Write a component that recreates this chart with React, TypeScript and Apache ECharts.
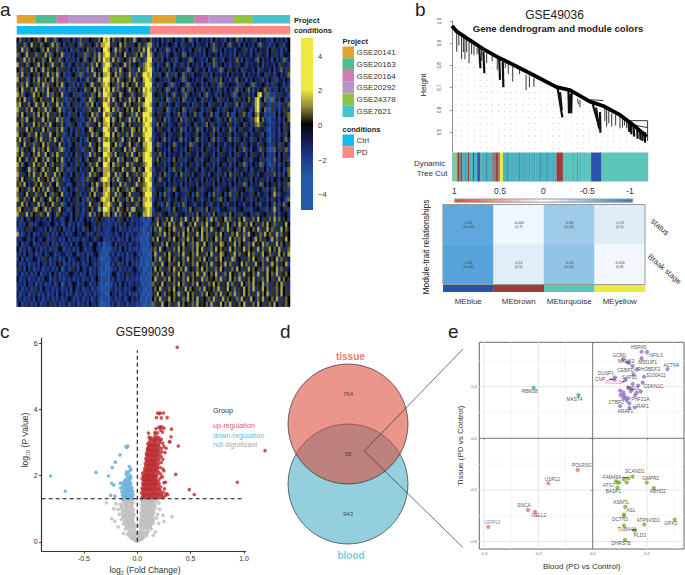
import React, { useEffect, useRef } from "react";
import * as echarts from "echarts";

const FONT = "Liberation Sans";
// ---------- panel a
const projects = ["GSE20141", "GSE20163", "GSE20164", "GSE20292", "GSE24378", "GSE7621"];
const projectColors = ["#E0A32E", "#52BC8A", "#CB7DB5", "#B795C8", "#92C13E", "#48C2CB"];
const ctrlCounts = [8, 9, 5, 18, 9, 9];
const pdCounts = [10, 8, 6, 11, 8, 16];
const conditions = ["Ctrl", "PD"];
const conditionColors = ["#14BBEF", "#F88A87"];
const heatLevels = [-2.6, -1.3, -0.8, -0.4, 0.15, 0.95, 1.35, 1.75, 2.3, 4];
const heatTicks = [4, 2, 0, -2, -4];
const heatRows = [
"5736425647 3586437254 3625143736 2546375989 4736257463 82546357|3425142635 2431537241 5342415243 3152447315 2436153442 315243425",
"3647258364 7254683725 1436352714 6253748899 3625847362 45736188|2415342543 1526344152 3441527344 2517344152 5342517343 142536145",
"6482735645 2758364726 4251362435 7361425998 5283746152 63748297|4152437142 5341442536 1425437142 5243414536 2414253441 526341425",
"7253846372 6483725648 2314253627 1647382899 6374258463 27581698|1536241453 2447153424 2415344251 4342415243 4415326441 536241454",
"4628374756 3725846372 5136241537 3527486988 3847265372 86142799|3264153426 1453427154 3241547243 1542437415 2344175243 4152437142",
"8364725368 4756283647 2413526314 6273851899 7462538374 35627898|2513447251 3426415342 4153247143 5241436254 1434425143 442516342",
"5273648475 2847365726 3625141623 7482536998 4273865472 63847899|1425364142 5344271536 4425143427 1536442516 3442516344 251437426",
"7384625637 5268473825 1324562714 2638475889 6583724683 27469989|3261547326 1547243154 4326415342 4415243441 5243414526 341452437",
"8463725748 3675284736 4213625143 7364281999 3748265374 86258998|1453426145 3427145342 4154326147 5341427534 1425346142 536144253",
"6274835267 4827365748 2536141426 5183647898 5627384756 38427999|2416354271 4354172435 4142536417 2435441263 5417243541 426354142",
"7583647386 2748536472 1413625347 2658374989 4827365283 65749898|1642537144 2537416253 4164253416 4253417425 3741425376 142253416",
"8372546847 5638274658 3245162134 6371582998 7364825467 24638899|2543641527 3441725344 1527344142 5344172536 4142589417 121363441",
"6758324765 7362485736 2136425316 4872536879 3825746382 75864999|1364257136 4257143425 4136425416 3425413642 5743892571 071425413",
"7846375286 3857264837 4215263142 7385146998 6472538475 36728998|2451364245 1344425136 4245136442 5136427513 6442891642 162213647",
"8263748357 6283745682 1362514326 2746385899 4827365748 64857899|1426357142 4357142635 4142635414 2635414263 5414892571 062414263",
"7485263748 5748362475 2413625134 6582734978 7364825637 28369998|2536441253 4741253474 1253474125 3474125367 4125784412 121515367",
"6372845736 2857364827 3125463214 3748265899 3825746283 74859899|1642573144 2573164254 3164254316 4257316425 4316895731 032414257",
"8574263857 6372845637 4216352143 7263584889 5746382574 36268998|2375164234 5164234516 4237516423 4516423451 6423781642 122425164",
"7263857462 4857263748 2351426315 4875362998 6382574638 75749899|1526443152 4473152447 3152447315 2447315264 4315264431 032415264",
"8465372685 7263845762 1342516324 6382745899 4857263748 26368999|2344615234 4615234461 5234461523 4461523446 1523446152 122414615",
"6847265374 8263748257 3214635142 7564382878 3746285374 65847998|1435274143 5274143527 4143527416 3527416352 4416352441 032425274",
"7258463726 5847362584 2413526143 3826574999 6582734685 37258899|2471435247 1435247163 5244163524 4143524416 3524416352 126416352",
"8374652847 3758246378 1325463216 6473582889 4726358472 86347899|1563424156 3424156342 4156342415 6342415637 2415437241 017426372",
"7486325748 6285374826 3142516342 2837465998 7385264738 25768998|2637415243 4415263441 5263441526 3441526344 1526344152 121515263",
"6853742685 4738265748 2415326153 7546382879 3648275364 78358999|1475263147 5263144526 3144526314 4526314452 6314452631 137425631",
"8374526847 6385274637 1352416325 3762845998 5827364827 36467899|2563414256 3414256341 4256341425 6341425637 1425347142 021414256",
"7645382765 2847365827 4213625143 6485273888 3746582637 85734998|1344625137 4625134462 5134462513 4462513446 2513446251 316425137",
"8263574836 7582638475 2341526314 2837645889 6482735846 27368899|2641573244 1573264154 3264154326 4157326415 4326415432 637414157",
"7485362748 3657482736 1325463216 7364528998 4738265374 64857998|1527344152 4364152436 4152436415 2436415243 6415243641 425425364",
"6738524675 8263745826 4213542613 3574826878 5264837264 38267899|2463415246 3415246341 5246341524 6341524637 1524347152 536414637",
"8564273857 4738265473 1352416324 6283745889 3748562738 75468898|1344526137 4526134452 6134452613 4452613445 2613445261 427425261",
"7325846372 6485273658 3142536142 4758362898 6382745683 26357999|2651473245 1443265147 3245147326 5147326514 4326514432 538614432",
"8647325864 7253864725 2415362513 7263548988 4857263748 63748898|1442563144 2563144256 3144256317 4256314425 6314256341 426425317",
"6384752648 3746582637 1352462314 3846275889 7264835264 37258999|2563147256 3147254314 4256314425 6314425341 4425631442 537414725",
"7856324786 5283746285 4213562413 6574382998 3748265738 84637898|1445362147 5342147536 2147536214 4536214453 6214453621 428625362",
"8263847562 7648253764 2341526314 2837465878 5283746582 36548898|2361445236 1445236147 5236147523 6147523614 4523614452 637414452",
"2615324532 4324152431 3541524135 2413653321 3241635241 32310201|5274637582 6473825748 3657284736 5827364758 2637485263 748374652",
"4132561324 5432453241 2513241325 4532463231 2413641532 42321012|6385274837 4682537486 2748365274 6385274863 7485263748 537263485",
"1324632543 2415132465 1324152413 6541324221 3524132413 21310120|4738265748 2637485736 5827486352 7483652748 3657482638 472638574",
"8213425132 4362413252 4132453254 1324632312 2413524132 43120101|5627384756 3748572638 4857263748 5263748637 2845637285 763827465",
"3245324153 2541326413 2514132413 2541345121 3241324152 31201012|7485263748 5627384756 2847365827 4638572748 3652847365 284736485",
"2513245132 4362513241 3241524532 4135413011 2514632413 42310102|5263748526 3748562738 6485273648 7526384756 2738465827 363847526",
"5132413524 1324132654 1324132541 3245321010 1324152413 21310010|6748352637 4857263748 5836274857 4638572648 3756284736 857482637",
"3241532413 2513541324 4132541324 1324520101 3241324132 53120100|4826375846 2748365728 4637582648 7536284736 5847263854 726385748",
"2514132541 3264132413 2513245324 1532410010 2413524132 42301010|5738264857 3647285736 7485263748 5263874526 3748562738 465827364",
"4132413241 5324132564 1324132413 2541320100 3241624152 31201001|7263845726 4857364728 5637482657 3847263584 7263845736 284736582",
"6241524132 4132413250 2413641532 4132410100 1324132413 53120010|4857263758 6374825637 4857362748 5263748526 3847562738 465827364",
"2413241325 1324152413 3245324132 5132410010 2541324632 42310100|6374852637 4857263748 6382574836 2748563728 4657382648 573826475",
"5132413241 3254132413 1324132413 2413520110 3241324132 31201010|5826374857 3647285746 3827465738 2648573826 4758362748 526384756",
"3241532413 2413241350 2413541325 4132410100 1324152413 42310100|7364852637 4857264738 5263748573 6482736485 2738465827 364758263",
"2413241364 1532413241 3241532413 2413210010 2413241324 53120010|4758263748 5263847562 7384657382 6485273648 5738264857 362748563",
"4132413241 3241324152 4132413241 3241320100 5324132413 21310100|6385274657 3826485736 2748563748 2657382648 5736284758 263748526",
"3241324152 4132413241 3254132413 2413410110 2413241352 42301010|5748263857 4637285748 3652748263 8475637284 6385274836 574826375",
"2513241324 1324632413 2413241324 1532410010 3241324132 31210010|7263845736 2847563728 4657382648 5728364758 2637485263 748526375",
];
// ---------- panel b
const trunkX = [0, 0.024, 0.075, 0.16, 0.245, 0.33, 0.415, 0.534, 0.602, 0.704, 0.772, 0.857, 0.925, 0.993];
const trunkH = [0.978, 0.953, 0.923, 0.873, 0.832, 0.795, 0.757, 0.702, 0.689, 0.637, 0.617, 0.577, 0.532, 0.479];
const thickBranches = [
[0.139,0.877,0.145,0.787],[0.16,0.862,0.165,0.765],[0.241,0.832,0.245,0.735],[0.259,0.817,0.262,0.702],
[0.539,0.697,0.563,0.566],[0.551,0.68,0.56,0.6],[0.594,0.689,0.597,0.584],[0.611,0.689,0.608,0.584],[0.603,0.67,0.603,0.6],[0.755,0.59,0.757,0.497],
[0.718,0.625,0.755,0.51],[0.735,0.61,0.75,0.52],[0.925,0.532,0.93,0.479],[0.959,0.51,0.962,0.464],[0.985,0.5,0.985,0.452],[0.945,0.52,0.947,0.47],[0.972,0.505,0.972,0.46],
[0.9,0.55,0.905,0.5],[0.912,0.54,0.915,0.49],
];
const thinBranches = [
[0.024,0.95,0.024,0.862],[0.035,0.94,0.035,0.89],[0.049,0.93,0.049,0.828],[0.058,0.925,0.058,0.86],[0.066,0.92,0.066,0.828],[0.075,0.915,0.075,0.86],[0.087,0.905,0.087,0.81],[0.1,0.9,0.1,0.85],[0.112,0.89,0.112,0.847],[0.128,0.88,0.128,0.85],
[0.15,0.87,0.15,0.82],[0.177,0.855,0.177,0.81],[0.205,0.845,0.205,0.82],[0.231,0.832,0.231,0.78],[0.272,0.815,0.272,0.79],[0.287,0.815,0.287,0.762],[0.31,0.795,0.31,0.727],[0.345,0.78,0.345,0.76],[0.378,0.757,0.378,0.689],
[0.395,0.753,0.395,0.702],[0.418,0.742,0.418,0.705],[0.653,0.644,0.653,0.611],[0.64,0.65,0.645,0.625],[0.789,0.599,0.789,0.524],[0.8,0.595,0.8,0.54],[0.815,0.584,0.815,0.524],[0.835,0.58,0.835,0.53],
[0.857,0.577,0.857,0.517],[0.891,0.562,0.891,0.517],[0.87,0.56,0.87,0.52],[0.88,0.56,0.88,0.53],[0.78,0.61,0.78,0.55],
[0.534,0.702,0.602,0.692],[0.704,0.645,0.772,0.642],[0.905,0.551,0.998,0.551],[0.998,0.551,0.998,0.46],[0.925,0.532,0.998,0.52],
];
const dotX = [0.02,0.051,0.082,0.113,0.144,0.175,0.206,0.237,0.268,0.299,0.33,0.361,0.392,0.423,0.454,0.485,0.516,0.547,0.578,0.609,0.64,0.671,0.702,0.733,0.764,0.795,0.826,0.857,0.888,0.919,0.95,0.981];
const dotTop = [0.85,0.85,0.85,0.85,0.85,0.85,0.85,0.83,0.815,0.8,0.79,0.77,0.755,0.74,0.725,0.715,0.7,0.67,0.67,0.66,0.645,0.63,0.62,0.61,0.6,0.59,0.57,0.55,0.53,0.51,0.49,0.46];
const dotH = [0.426,0.454,0.482,0.51,0.538,0.566,0.594,0.622,0.65,0.678,0.706,0.734,0.762,0.79,0.818,0.846];
const stripPalette = ["#7FC9A3","#A23A3C","#4DB3BE","#5EC6B9","#2A52A6","#EEE93F","#8C8088","#3F8FB8"];
const stripSegs = [[16,0],[5,1],[6,6],[4,1],[8,2],[3,6],[6,2],[3,1],[7,2],[5,2],[3,1],[10,2],[5,4],[4,1],[4,2],[12,2],[6,7],[12,2],[12,6],[8,1],[5,6],[9,5],[12,2],[3,7],[14,2],[3,7],[16,2],[3,7],[10,2],[4,7],[14,2],[3,7],[12,2],[3,7],[14,2],[3,7],[18,2],[3,7],[16,2],[3,7],[7,2],[19,1],[30,3],[3,2],[10,3],[3,7],[5,3],[3,2],[10,3],[4,2],[17,3],[31,4],[140,3]];
const modules = ["MEblue", "MEbrown", "MEturquoise", "MEyellow"];
const moduleColors = ["#2A52A6", "#A23A3C", "#5EC6B9", "#EEE93F"];
const traits = ["status", "Braak stage"];
const traitCorr = [[-0.63, -0.064, -0.38, -0.13], [-0.66, -0.12, -0.43, -0.056]];
const traitP = [["4e-04", "0.7", "0.05", "0.5"], ["1e-04", "0.5", "0.02", "0.8"]];
const corrTicks = ["1", "0.5", "0", "-0.5", "-1"];
// ---------- panel c
const volRed = [.045,1.34,.06,1.37,.078,1.33,.095,1.38,.11,1.34,.125,1.39,.14,1.33,.155,1.37,.17,1.34,.19,1.38,.205,1.33,.225,1.37,.245,1.35,.265,1.4,.285,1.43,
.04,1.48,.055,1.52,.07,1.46,.085,1.53,.1,1.49,.115,1.54,.13,1.47,.145,1.52,.16,1.48,.175,1.53,.195,1.47,.215,1.52,.24,1.5,.27,1.46,
.045,1.62,.06,1.67,.075,1.61,.09,1.66,.105,1.63,.12,1.68,.135,1.62,.15,1.67,.165,1.63,.18,1.68,.2,1.62,.22,1.66,.255,1.6,
.05,1.77,.065,1.82,.08,1.76,.095,1.81,.11,1.78,.125,1.83,.14,1.77,.155,1.82,.17,1.78,.185,1.83,.205,1.77,.25,1.79,.265,1.8,
.045,1.92,.06,1.97,.075,1.91,.09,1.96,.105,1.93,.12,1.98,.135,1.92,.15,1.97,.165,1.93,.18,1.96,.22,1.94,.235,1.97,
.05,2.07,.065,2.12,.08,2.06,.095,2.11,.11,2.08,.125,2.13,.14,2.07,.155,2.12,.17,2.08,.2,2.1,.22,2.05,.25,2.15,
.07,2.22,.085,2.27,.1,2.21,.115,2.26,.13,2.23,.145,2.28,.16,2.22,.175,2.26,.19,2.22,.215,2.25,.24,2.2,
.075,2.37,.09,2.42,.105,2.36,.12,2.41,.135,2.38,.15,2.43,.165,2.37,.18,2.41,.2,2.37,.225,2.4,
.08,2.52,.095,2.57,.11,2.51,.125,2.56,.14,2.53,.155,2.58,.17,2.52,.185,2.56,.205,2.52,.225,2.58,.24,2.5,
.085,2.67,.1,2.72,.115,2.66,.13,2.71,.145,2.68,.16,2.73,.175,2.67,.19,2.71,.21,2.67,.23,2.72,.26,2.7,
.095,2.82,.11,2.87,.125,2.81,.14,2.86,.155,2.83,.17,2.88,.185,2.82,.205,2.86,.225,2.82,.25,2.88,.27,2.83,
.1,2.97,.115,3.02,.13,2.96,.145,3.01,.16,2.98,.175,3.03,.195,2.97,.215,3.01,.24,2.98,.3,3.03,
.11,3.16,.125,3.15,.16,3.16,.175,3.12,.19,3.17,.205,3.14,.225,3.1,.105,3.29,.165,3.31,.17,3.25,.19,3.3,.235,3.32,
.175,3.42,.2,3.46,.215,3.48,.23,3.47,.25,3.44,.22,3.38,.18,3.76,.205,3.88,.215,3.9,.19,3.9,.245,3.9,.225,3.75,.28,3.76,
.052,1.42,.068,1.41,.088,1.44,.108,1.43,.128,1.42,.15,1.44,.17,1.43,.19,1.44,.21,1.43,.23,1.44,.05,1.58,.067,1.59,.083,1.57,.1,1.58,.118,1.6,.138,1.57,.155,1.59,.175,1.6,.192,1.57,.21,1.58,
.055,1.72,.07,1.73,.088,1.72,.103,1.72,.118,1.74,.133,1.72,.148,1.74,.163,1.72,.18,1.74,.2,1.72,.055,1.87,.07,1.86,.085,1.88,.1,1.86,.115,1.88,.13,1.87,.145,1.88,.16,1.87,.175,1.87,.2,1.87,
.058,2.0,.073,2.02,.088,2.01,.103,2.0,.118,2.03,.133,2.01,.148,2.03,.163,2.0,.185,2.02,.075,2.16,.09,2.17,.105,2.16,.12,2.18,.135,2.16,.15,2.18,.165,2.17,.185,2.16,
.08,2.31,.095,2.33,.11,2.31,.125,2.33,.14,2.32,.155,2.34,.17,2.32,.19,2.3,.085,2.46,.1,2.47,.115,2.46,.13,2.47,.145,2.47,.16,2.47,.175,2.46,.2,2.47,
.09,2.62,.105,2.62,.12,2.62,.135,2.63,.15,2.62,.165,2.63,.18,2.62,.2,2.62,.095,2.77,.11,2.77,.125,2.77,.14,2.78,.155,2.77,.17,2.78,.185,2.77,.2,2.76,
.105,2.92,.12,2.92,.135,2.92,.15,2.93,.165,2.92,.18,2.93,.2,2.92,.12,3.08,.14,3.1,.155,3.08,.17,3.07,.19,3.08,.21,3.07,
.375,5.89,1.197,2.76,.9375,1.8,.4875,1.58,.534,1.43,.36,2.04,.384,2.9,.32,3.41,.316,3.18,.306,3.03];
const volBlue = [-.05,1.33,-.07,1.36,-.09,1.33,-.11,1.37,-.13,1.34,-.04,1.42,-.06,1.46,-.08,1.43,-.1,1.47,-.12,1.44,-.14,1.42,-.045,1.53,-.065,1.57,-.085,1.54,-.105,1.58,-.125,1.55,-.145,1.52,-.05,1.64,-.07,1.68,-.09,1.65,-.11,1.69,-.13,1.66,-.155,1.63,-.06,1.76,-.08,1.79,-.1,1.76,-.12,1.8,-.14,1.77,-.07,1.87,-.09,1.9,-.11,1.87,-.06,1.93,-.065,2.0,-.085,2.08,-.1,2.12,-.07,2.15,-.105,2.05,-.075,2.28,-.06,2.2,
-.055,1.38,-.08,1.39,-.1,1.4,-.12,1.38,-.05,1.5,-.075,1.5,-.095,1.52,-.115,1.5,-.06,1.6,-.08,1.6,-.1,1.62,-.12,1.6,-.07,1.72,-.09,1.72,-.11,1.74,-.13,1.72,-.08,1.84,-.1,1.84,-.12,1.84,-.075,1.95,-.095,1.97,
-.8125,1.99,-.675,1.53,-.3875,2.1,-.27,1.99,-.234,2.25,-.206,2.41,-.1625,2.63,-.106,2.88,-.09,2.9,-.095,2.86,-.25,1.41,-.21,1.38,-.24,1.77,-.22,1.72,-.16,1.77];
const volGray = [-.02,.03,0,.02,.02,.04,-.035,.07,.035,.08,-.05,.1,.05,.1,0,.08,-.07,.18,-.05,.22,-.03,.18,-.015,.22,.015,.2,.03,.24,.05,.18,.07,.22,.09,.19,-.09,.22,
-.11,.38,-.09,.42,-.07,.37,-.05,.42,-.03,.38,.03,.4,.05,.36,.07,.42,.09,.38,.11,.43,.13,.38,
-.13,.55,-.11,.52,-.09,.57,-.07,.53,-.05,.58,-.03,.53,.03,.56,.05,.52,.07,.58,.09,.53,.11,.57,.13,.52,.15,.57,
-.15,.68,-.12,.72,-.1,.67,-.08,.73,-.06,.68,-.04,.72,.03,.68,.05,.73,.07,.67,.09,.72,.11,.68,.13,.73,.15,.68,.18,.72,
-.17,.83,-.14,.87,-.115,.82,-.095,.88,-.07,.83,-.05,.87,-.03,.82,.035,.87,.055,.82,.075,.88,.095,.83,.115,.87,.135,.83,.155,.88,.19,.83,
-.18,.98,-.15,1.02,-.125,.97,-.1,1.03,-.08,.98,-.06,1.02,-.035,.98,.04,1.02,.06,.97,.08,1.03,.1,.98,.12,1.02,.14,.97,.17,1.02,.21,.98,
-.2,1.15,-.16,1.13,-.13,1.17,-.105,1.12,-.085,1.18,-.06,1.13,-.04,1.17,.04,1.13,.06,1.18,.08,1.12,.1,1.17,.12,1.13,.14,1.18,.165,1.13,.2,1.17,
-.14,1.27,-.11,1.25,-.09,1.28,-.065,1.25,-.045,1.28,.04,1.26,.06,1.28,.085,1.25,.105,1.28,.125,1.25,.15,1.27,.18,1.25,-.29,1.18,
-.01,.1,.01,.12,-.03,.12,.03,.14,-.06,.14,.06,.14,-.08,.28,-.06,.3,-.04,.28,-.02,.3,0,.27,.02,.3,.04,.28,.06,.3,.08,.28,.1,.3,
-.1,.46,-.08,.48,-.06,.47,-.04,.48,-.02,.47,.02,.48,.04,.47,.06,.48,.08,.47,.1,.48,.12,.47,-.12,.62,-.1,.62,-.08,.62,-.06,.63,-.04,.62,.04,.62,.06,.63,.08,.62,.1,.63,.12,.62,.14,.63,
-.135,.78,-.11,.78,-.09,.78,-.06,.78,-.04,.78,.04,.78,.065,.78,.085,.78,.105,.78,.125,.78,.145,.78,-.14,.93,-.11,.92,-.09,.93,-.07,.92,-.045,.93,.045,.93,.07,.92,.09,.93,.11,.92,.13,.93,.15,.92,
-.145,1.08,-.115,1.08,-.095,1.08,-.07,1.08,-.05,1.08,.05,1.08,.07,1.08,.09,1.08,.11,1.08,.13,1.08,.155,1.08,-.12,1.22,-.1,1.22,-.075,1.22,-.055,1.22,.05,1.22,.075,1.22,.095,1.22,.115,1.22,.135,1.22,.16,1.22,
.325,.76,.25,.62,.2,.55,.24,.8,-.21,.62,-.18,.45,-.24,.7,-.22,1.0,.17,.3,.15,.2,-.13,.25];
const volThreshold = 1.3;
const volGroups = ["up-regulation", "down-regulation", "not-significant"];
// ---------- panel d
const vennSets = ["blood", "tissue"];
const vennCounts = ["764", "58", "943"];
// ---------- panel e
const eTeal = [["RBM38",-.217,.392],["MAST4",-.052,.335]];
const eRed = [["POLR3G",-.055,-.245],["USP12",-.163,-.348],["SNCA",-.238,-.555],["NELL2",-.212,-.57],["LRRN3",-.384,-.686]];
const ePurple = [["HSPA5",.18,.671],["NFIL3",.2,.668],["GCM1",.113,.614],["MKNK2",.131,.586],["MID1IP1",.18,.619],["ACTN4",.275,.537],["CEBPD",.147,.56],["RHOBDF2",.162,.534],["DUSP1",.082,.47],["CNP",.079,.459],["S100A11",.189,.477],["SAP30",.15,.495],["PLOD3",.121,.452],["CDKN1C",.184,.431],["MGLL",.131,.395],["PHF21A",.131,.31],["CTBP2",.101,.25],["RAF1",.155,.24],["ARAP1",.135,.235],
["",.101,.369],["",.113,.356],["",.103,.335],["",.115,.335],["",.147,.421],["",.167,.408],["",.177,.364],["",.162,.354],["",.156,.335],["",.14,.366],["",.121,.315],["",.135,.271],["",.125,.292],["",.113,.31],["",.144,.379]];
const eGreen = [["SCAND1",.147,-.297],["FAM49A",.115,-.317],["",.131,-.31],["ATG7",.086,-.333],["",.098,-.343],["",.091,-.343],["",.125,-.343],["GMPR2",.199,-.343],["ABHD2",.225,-.385],["BASP1",.091,-.382],["ASMTL",.12,-.532],["ASL",.115,-.591],["DCTN3",.115,-.601],["TUBA4A",.115,-.676],["PLD3",.155,-.715],["ATP6V0D1",.19,-.668],["GPX3",.302,-.63],["DHRS7B",.119,-.787]];
const labelShift: Record<string, number[]> = {RBM38:[-4,4],MAST4:[-4,4],POLR3G:[4,-4],USP12:[4,-4],SNCA:[-4,-4],NELL2:[4,4],LRRN3:[4,-4],HSPA5:[-3,-4],NFIL3:[9,3],GCM1:[-4,-4],MKNK2:[-2,-1],MID1IP1:[6,4],ACTN4:[4,-4],CEBPD:[-7,4],RHOBDF2:[12,0],DUSP1:[-9,-4],CNP:[-14,0],S100A11:[12,-1],SAP30:[-4,3],PLOD3:[-12,3],CDKN1C:[11,4],MGLL:[5,1],PHF21A:[12,1],CTBP2:[-4,-4],RAF1:[8,-1],ARAP1:[-4,4],SCAND1:[2,-5],FAM49A:[-12,-2],ATG7:[-7,4],GMPR2:[4,-4],ABHD2:[4,4],BASP1:[-4,4],ASMTL:[-4,-4],ASL:[7,-4],DCTN3:[-4,4],TUBA4A:[3,4],PLD3:[5,5],ATP6V0D1:[4,-4],GPX3:[-4,4],DHRS7B:[-4,4]};
const leaders = [[.061,.457,.086,.457],[.107,.431,.125,.457],[.109,-.302,.131,-.307],[.144,-.71,.162,-.71],[.12,.59,.14,.575]];
const eMajorX = [-.4,-.2,.2], eMinorX = [-.3,-.1,.1,.3], eMajorY = [.4,-.4,-.8], eMinorY = [.6,.2,-.2,-.6];
const eLimits = { x0: -.417, x1: .336, y0: -.858, y1: .744 };

const chunk = (a: number[]) => { const o: number[][] = []; for (let i = 0; i < a.length; i += 2) o.push([a[i], a[i + 1]]); return o; };
const clean = (s: string) => s.replace(/[ |]/g, "").padEnd(117, "4").slice(0, 117);
const cum = (segs: number[][]) => { let s = 0; return segs.map(([w, c]) => { const r = [s, s + w, c]; s += w; return r; }); };

const txt = (x: number, y: number, text: string, o: any = {}) => ({
  type: "text", x, y, rotation: o.rot || 0, z: 50, silent: true,
  style: { text, fontFamily: FONT, fontSize: o.size || 8, fontWeight: o.weight || "normal", fill: o.color || "#222",
    align: o.align || "left", verticalAlign: o.va || "middle", rich: o.rich },
});
const rect = (x: number, y: number, width: number, height: number, fill: any, stroke?: string) => ({
  type: "rect", shape: { x, y, width, height }, z: 40, silent: true, style: { fill, stroke, lineWidth: stroke ? 1 : 0 },
});

const hiddenX = (min: number, max: number, gridIndex: number) => ({ type: "value", min, max, gridIndex, show: false });
const hiddenY = hiddenX;

function buildOption() {
  const grids = [
    { left: 16.7, top: 37.7, width: 273.3, height: 269 },
    { left: 16.7, top: 15, width: 273.3, height: 8.5 },
    { left: 16.7, top: 26, width: 273.3, height: 8.5 },
    { left: 452, top: 21, width: 196, height: 131 },
    { left: 452, top: 152.5, width: 196, height: 29 },
    { left: 443, top: 204.5, width: 202, height: 80 },
    { left: 443, top: 284.5, width: 202, height: 7.5 },
    { left: 41.7, top: 338, width: 204, height: 213 },
    { left: 288, top: 364, width: 120, height: 180 },
    { left: 479.3, top: 342.3, width: 204.7, height: 206.7, show: true, borderColor: "#666", borderWidth: 1 },
  ];
  const colIdx = Array.from({ length: 117 }, (_, i) => i);
  const rowIdx = heatRows.map((_, i) => i);
  const heatData: number[][] = [];
  heatRows.forEach((r, y) => { const s = clean(r); for (let x = 0; x < 117; x++) heatData.push([x, y, heatLevels[+s[x]]]); });
  const traitData: number[][] = [];
  traitCorr.forEach((r, y) => r.forEach((v, x) => traitData.push([x, y, v])));

  const axisFont = { fontFamily: FONT, color: "#333" };
  const xAxis: any[] = [
    { type: "category", data: colIdx, gridIndex: 0, show: false },
    hiddenX(0, 117, 1), hiddenX(0, 117, 2), hiddenX(0, 1, 3), hiddenX(0, 589, 4),
    { type: "category", data: modules, gridIndex: 5, axisLine: { show: false }, axisTick: { show: false },
      axisLabel: { ...axisFont, fontSize: 8, margin: 13, interval: 0 } },
    hiddenX(0, 4, 6),
    { type: "value", gridIndex: 7, min: -0.896, max: 1.016, splitLine: { show: false },
      axisLine: { onZero: false, lineStyle: { color: "#333", width: 1.2 } }, axisTick: { length: 2.5, lineStyle: { color: "#333" }, customValues: [-0.5, 0, 0.5, 1] },
      axisLabel: { ...axisFont, fontSize: 7, margin: 4, customValues: [-0.5, 0, 0.5, 1], formatter: (v: number) => v.toFixed(1) } },
    hiddenX(0, 1, 8),
    { type: "value", gridIndex: 9, min: eLimits.x0, max: eLimits.x1, splitLine: { show: false },
      name: "Blood (PD vs Control)", nameLocation: "middle", nameGap: 13, nameTextStyle: { ...axisFont, fontSize: 8 },
      axisLine: { show: false }, axisTick: { length: 2, lineStyle: { color: "#777" }, customValues: [-.4, -.2, 0, .2] },
      axisLabel: { ...axisFont, color: "#666", fontSize: 4, margin: 2.5, customValues: [-.4, -.2, 0, .2], formatter: (v: number) => v.toFixed(1) } },
  ];
  const yAxis: any[] = [
    { type: "category", data: rowIdx, gridIndex: 0, show: false, inverse: true },
    hiddenY(0, 1, 1), hiddenY(0, 1, 2),
    { type: "value", gridIndex: 3, min: 0.41, max: 1.0, offset: 7, splitLine: { show: false },
      axisLine: { show: true, lineStyle: { color: "#444", width: 0.6 } }, axisTick: { length: 2, lineStyle: { color: "#444", width: 0.6 }, customValues: [.5, .6, .7, .8, .9, 1] },
      axisLabel: { ...axisFont, fontSize: 4.5, rotate: 90, margin: 3, customValues: [.5, .6, .7, .8, .9, 1], formatter: (v: number) => v.toFixed(1) } },
    hiddenY(0, 1, 4),
    { type: "category", data: traits, gridIndex: 5, inverse: true, show: false },
    hiddenY(0, 1, 6),
    { type: "value", gridIndex: 7, min: -0.28, max: 6.17, splitLine: { show: false },
      axisLine: { onZero: false, lineStyle: { color: "#333", width: 1.2 } }, axisTick: { length: 2.5, lineStyle: { color: "#333" }, customValues: [0, 2, 4, 6] },
      axisLabel: { ...axisFont, fontSize: 7, margin: 4, customValues: [0, 2, 4, 6] } },
    hiddenY(0, 3, 8),
    { type: "value", gridIndex: 9, min: eLimits.y0, max: eLimits.y1, splitLine: { show: false },
      name: "Tissue (PD vs Control)", nameLocation: "middle", nameGap: 15, nameTextStyle: { ...axisFont, fontSize: 8 },
      axisLine: { show: false }, axisTick: { length: 2, lineStyle: { color: "#777" }, customValues: [.4, 0, -.4, -.8] },
      axisLabel: { ...axisFont, color: "#666", fontSize: 4, margin: 2.5, customValues: [.4, 0, -.4, -.8], formatter: (v: number) => v.toFixed(1) } },
  ];

  const spans = (g: number, data: number[][], pal: string[]) => ({
    type: "custom", xAxisIndex: g, yAxisIndex: g, silent: true, data, clip: false,
    renderItem: (_: any, api: any) => {
      const a = api.coord([api.value(0), 0]), b = api.coord([api.value(1), 1]);
      return { type: "rect", shape: { x: a[0], y: b[1], width: b[0] - a[0] + 0.25, height: a[1] - b[1] }, style: { fill: pal[api.value(2)] } };
    },
  });
  const segs = (g: number, data: number[][], stroke: string, width: number, z = 2, dash?: number[]) => ({
    type: "custom", xAxisIndex: g, yAxisIndex: g, silent: true, data, z, clip: false,
    renderItem: (_: any, api: any) => {
      const a = api.coord([api.value(0), api.value(1)]), b = api.coord([api.value(2), api.value(3)]);
      return { type: "line", shape: { x1: a[0], y1: a[1], x2: b[0], y2: b[1] }, style: { stroke, lineWidth: width, lineDash: dash } };
    },
  });
  const eSeries = (list: any[], color: string) => ({
    type: "scatter", xAxisIndex: 9, yAxisIndex: 9, symbolSize: 4.2, z: 5, clip: false, silent: true,
    itemStyle: { color },
    data: list.map(([name, x, y]) => {
      const off = labelShift[name] || [0, 0];
      const c = name === "PLOD3" ? "#F2557F" : name === "LRRN3" ? "#4668BE" : "#222";
      return { name, value: [x, y], label: { show: !!name, position: "inside", offset: off, fontSize: 4.8, fontFamily: FONT, color: c, formatter: name } };
    }),
  });
  const ctrlSegs = ctrlCounts.map((w, i) => [w, i]), pdSegs = pdCounts.map((w, i) => [w, i]);
  const series: any[] = [
    { type: "heatmap", xAxisIndex: 0, yAxisIndex: 0, data: heatData, silent: true, itemStyle: { borderWidth: 0 } },
    { type: "heatmap", xAxisIndex: 5, yAxisIndex: 5, data: traitData, silent: true,
      label: { show: true, fontSize: 3.6, lineHeight: 4, fontFamily: FONT, color: "#444",
        formatter: (p: any) => `${traitCorr[p.data[1]][p.data[0]]}\n(${traitP[p.data[1]][p.data[0]]})` } },
    spans(1, cum([...ctrlSegs, ...pdSegs]), projectColors),
    spans(2, cum([[ctrlCounts.reduce((a, b) => a + b, 0) - 1, 0], [pdCounts.reduce((a, b) => a + b, 0) + 1, 1]]), conditionColors),
    { type: "scatter", xAxisIndex: 3, yAxisIndex: 3, symbolSize: 0.9, silent: true, itemStyle: { color: "#999" },
      data: dotX.flatMap((x, i) => dotH.filter((h) => h < dotTop[i]).map((h) => [x, h])) },
    segs(3, thinBranches, "#333", 1, 3),
    segs(3, thickBranches, "#111", 2.2, 3),
    { type: "line", xAxisIndex: 3, yAxisIndex: 3, data: trunkX.map((x, i) => [x, trunkH[i]]), showSymbol: false, silent: true, z: 4, lineStyle: { color: "#000", width: 3.8 } },
    spans(4, cum(stripSegs), stripPalette),
    spans(6, moduleColors.map((_, i) => [i, i + 1, i]), moduleColors),
    segs(7, [[-0.896, volThreshold, 0.985, volThreshold], [0, 0, 0, 5.8]], "#111", 1.1, 6, [4, 3]),
    { type: "scatter", xAxisIndex: 7, yAxisIndex: 7, symbolSize: 3.8, silent: true, clip: false, itemStyle: { color: "#BDBDBD" }, data: chunk(volGray) },
    { type: "scatter", xAxisIndex: 7, yAxisIndex: 7, symbolSize: 3.6, silent: true, clip: false, itemStyle: { color: "#6DB4DC", opacity: 0.9 }, data: chunk(volBlue) },
    { type: "scatter", xAxisIndex: 7, yAxisIndex: 7, symbolSize: 3.6, silent: true, clip: false, itemStyle: { color: "#BC2C2E", opacity: 0.8 }, data: chunk(volRed) },
    { type: "scatter", xAxisIndex: 8, yAxisIndex: 8, symbolSize: 120, silent: true, clip: false, z: 2,
      data: [
        { name: vennSets[0], value: [0.5, 1], itemStyle: { color: "#78C3D5", borderColor: "#222", borderWidth: 0.8 } },
        { name: vennSets[1], value: [0.5, 2], itemStyle: { color: "rgba(219,76,59,0.73)", borderColor: "#222", borderWidth: 0.8 } },
      ] },
    { type: "scatter", xAxisIndex: 8, yAxisIndex: 8, symbolSize: 1, silent: true, clip: false, z: 3, itemStyle: { color: "transparent" },
      label: { show: true, position: "inside", fontFamily: FONT, fontSize: 6, color: "#222", formatter: "{b}" },
      data: [
        { name: vennCounts[0], value: [0.5, 2.5] }, { name: vennCounts[1], value: [0.5, 1.508] }, { name: vennCounts[2], value: [0.5, 0.5] },
        { name: vennSets[1], value: [0.52, 3.13], label: { fontSize: 10, fontWeight: "bold", color: "#E5574B" } },
        { name: vennSets[0], value: [0.525, -0.19], label: { fontSize: 10, fontWeight: "bold", color: "#5BB9D3" } },
      ] },
    segs(9, eMinorX.map((x) => [x, eLimits.y0, x, eLimits.y1]), "#F1F1F1", 0.8, 1),
    segs(9, eMinorY.map((y) => [eLimits.x0, y, eLimits.x1, y]), "#F1F1F1", 0.8, 1),
    segs(9, eMajorX.map((x) => [x, eLimits.y0, x, eLimits.y1]), "#E6E6E6", 1, 1),
    segs(9, eMajorY.map((y) => [eLimits.x0, y, eLimits.x1, y]), "#E6E6E6", 1, 1),
    segs(9, [[0, eLimits.y0, 0, eLimits.y1], [eLimits.x0, 0, eLimits.x1, 0]], "#666", 0.9, 2),
    segs(9, leaders, "#000", 0.9, 4),
    eSeries(eTeal, "#1DB9B7"), eSeries(eRed, "#F4766D"), eSeries(ePurple, "#9270C4"), eSeries(eGreen, "#7CAD2D"),
  ];

  const visualMap = [
    { show: false, seriesIndex: 0, min: -5, max: 5, dimension: 2,
      inRange: { color: ["#2458A8", "#2458A8", "#2458A8", "#2458A8", "#1F3A8A", "#131C52", "#050505", "#8C8835", "#EFE83F", "#EFE83F", "#EFE83F"] } },
    { show: false, seriesIndex: 1, min: -1, max: 1, dimension: 2, inRange: { color: ["#0175C9", "#FFFFFF", "#E8402A"] } },
  ];

  const grad = (stops: string[], horizontal = false) => new echarts.graphic.LinearGradient(0, 0, horizontal ? 1 : 0, horizontal ? 0 : 1, stops.map((c, i) => ({ offset: i / (stops.length - 1), color: c })));
  const g: any[] = [
    txt(0, 9, "a", { size: 19 }), txt(415, 9, "b", { size: 19 }), txt(0, 331, "c", { size: 19 }), txt(280, 331, "d", { size: 19 }), txt(448, 331, "e", { size: 19 }),
    txt(294, 20, "Project", { size: 7.5, weight: "bold" }), txt(294, 30.5, "conditions", { size: 7.5, weight: "bold" }),
    txt(342.5, 41, "Project", { size: 7.5, weight: "bold" }), txt(342.5, 129, "conditions", { size: 7.5, weight: "bold" }),
    rect(301, 38, 12, 172, grad(["#EFE83F", "#EFE83F", "#EFE83F", "#EFE83F", "#8C8835", "#050505", "#131C52", "#1F3A8A", "#2458A8", "#2458A8", "#2458A8"])),
    ...heatTicks.map((t) => txt(318, 125.5 - t * 17.3, String(t).replace("-", "\u2212"), { size: 7.5, color: "#333" })),
    ...projects.flatMap((p, i) => [rect(342.5, 46.5 + i * 11.75, 11.5, 11.75, projectColors[i]), txt(356.5, 52.7 + i * 11.7, p, { size: 8, color: "#333" })]),
    ...conditions.flatMap((c, i) => [rect(342.5, 134.5 + i * 11.7, 11.5, 11.7, conditionColors[i]), txt(356.5, 140.5 + i * 11.7, c, { size: 8, color: "#333" })]),
    txt(554.5, 15, "GSE49036", { size: 12, align: "center" }),
    txt(558, 28, "Gene dendrogram and module colors", { size: 9.6, weight: "bold", align: "center" }),
    txt(423, 85, "Height", { size: 8, rot: Math.PI / 2, align: "center" }),
    txt(445, 163, "Dynamic", { size: 8, align: "right", color: "#333" }), txt(447.5, 173, "Tree Cut", { size: 8, align: "right", color: "#333" }),
    rect(454.7, 199, 178, 3.2, grad(["#E8402A", "#FFFFFF", "#2A74BF"], true), "#999"),
    ...corrTicks.map((t, i) => txt([454.3, 500, 543.3, 587.3, 630][i], 190.7, t, { size: 8.5, align: "center", color: "#333" })),
    txt(426, 247, "Module-trait relationships", { size: 8.5, rot: Math.PI / 2, align: "center", color: "#222" }),
    rect(443, 204.5, 202, 80, "transparent", "#999"),
    txt(660, 227, traits[0], { size: 8, rot: -0.72, align: "center", color: "#333" }),
    txt(664.5, 269, traits[1], { size: 7.8, rot: -0.72, align: "center", color: "#333" }),
    txt(145, 331.5, "GSE99039", { size: 12, align: "center" }),
    txt(25, 440, "{n|log}{s|10}{n| (P Value)}", { rot: Math.PI / 2, align: "center", rich: { n: { fontSize: 8.5, lineHeight: 12, fontFamily: FONT, fill: "#333" }, s: { fontSize: 5.5, verticalAlign: "bottom", fontFamily: FONT, fill: "#333" } } }),
    txt(145, 570, "{n|log}{s|2}{n| (Fold Change)}", { align: "center", rich: { n: { fontSize: 8.5, lineHeight: 12, fontFamily: FONT, fill: "#333" }, s: { fontSize: 5.5, verticalAlign: "bottom", fontFamily: FONT, fill: "#333" } } }),
    txt(213, 410.5, "Group", { size: 7.2, color: "#333" }),
    txt(213, 425.5, volGroups[0], { size: 7.2, color: "#E8556A" }),
    txt(213, 435, volGroups[1], { size: 7.2, color: "#5DBBE8" }),
    txt(213, 444.5, volGroups[2], { size: 7.2, color: "#A8A8A8" }),
    { type: "polyline", z: 60, silent: true, shape: { points: [[463, 349], [364.3, 451], [463, 547.5]] }, style: { stroke: "#333", lineWidth: 0.7, fill: "none" } },
  ];
  return { animation: false, textStyle: { fontFamily: FONT }, grid: grids, xAxis, yAxis, series, visualMap, graphic: { elements: g } };
}

export default function App() {
  const ref = useRef<HTMLDivElement>(null);
  useEffect(() => {
    document.body.style.margin = "0";
    const chart = echarts.init(ref.current!, undefined, { renderer: "svg" });
    chart.setOption(buildOption() as any);
    return () => chart.dispose();
  }, []);
  return <div ref={ref} style={{ width: 685, height: 575, background: "#fff" }} />;
}
